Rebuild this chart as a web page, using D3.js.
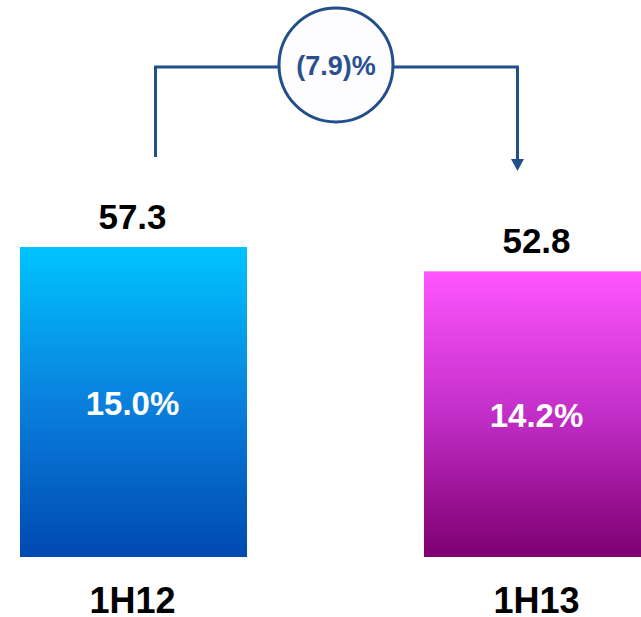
<!DOCTYPE html>
<html>
<head>
<meta charset="utf-8">
<script src="https://cdn.jsdelivr.net/npm/d3@7"></script>
<style>
  body { margin: 0; background: #fff; }
  svg { display: block; font-family: "Liberation Sans", Arial, sans-serif; }
</style>
</head>
<body>
<div id="chart"></div>
<script>
// data
var categories = ["1H12", "1H13"];
var values = [57.3, 52.8];
var margins = ["15.0%", "14.2%"];
var changeLabel = "(7.9)%";

var full_width = 641, full_height = 617;
var baseY = 557;

var svg = d3.select("#chart")
            .append("svg")
            .attr("width", full_width)
            .attr("height", full_height);

var x = d3.scaleBand()
          .domain(categories)
          .range([20, 651])
          .paddingInner(0.438)
          .paddingOuter(0);

var y = d3.scaleLinear()
          .domain([0, 57.3])
          .range([baseY, 247]);

// gradients
var defs = svg.append("defs");
var grads = [["g0", "#00c4ff", "#0a80dc", "#0049b2"], ["g1", "#ff55ff", "#c22ec8", "#7e0070"]];
grads.forEach(function(g) {
  var lg = defs.append("linearGradient").attr("id", g[0])
               .attr("x1", 0).attr("y1", 0).attr("x2", 0).attr("y2", 1);
  lg.append("stop").attr("offset", "0%").attr("stop-color", g[1]);
  lg.append("stop").attr("offset", "50%").attr("stop-color", g[2]);
  lg.append("stop").attr("offset", "100%").attr("stop-color", g[3]);
});

var data = categories.map(function(c, i) {
  return {cat: c, value: values[i], margin: margins[i], grad: grads[i][0]};
});

// bars
svg.selectAll("rect.bar")
   .data(data)
   .enter()
   .append("rect")
   .attr("class", "bar")
   .attr("x", function(d) { return x(d.cat); })
   .attr("y", function(d) { return y(d.value); })
   .attr("width", x.bandwidth())
   .attr("height", function(d) { return baseY - y(d.value); })
   .attr("fill", function(d) { return "url(#" + d.grad + ")"; });

// value labels
svg.selectAll("text.val")
   .data(data)
   .enter()
   .append("text")
   .attr("class", "val")
   .attr("x", function(d) { return x(d.cat) + x.bandwidth() / 2 - 1; })
   .attr("y", function(d) { return y(d.value) - 18; })
   .attr("text-anchor", "middle")
   .attr("font-size", 35)
   .attr("font-weight", "bold")
   .attr("fill", "#000")
   .text(function(d) { return d.value.toFixed(1); });

// margin labels inside bars
svg.selectAll("text.mrg")
   .data(data)
   .enter()
   .append("text")
   .attr("class", "mrg")
   .attr("x", function(d) { return x(d.cat) + x.bandwidth() / 2 - 1; })
   .attr("y", function(d) { return (y(d.value) + baseY) / 2 + 13; })
   .attr("text-anchor", "middle")
   .attr("font-size", 33)
   .attr("font-weight", "bold")
   .attr("fill", "#fff")
   .text(function(d) { return d.margin; });

// category labels
svg.selectAll("text.cat")
   .data(data)
   .enter()
   .append("text")
   .attr("class", "cat")
   .attr("x", function(d) { return x(d.cat) + x.bandwidth() / 2 - 1; })
   .attr("y", 613)
   .attr("text-anchor", "middle")
   .attr("font-size", 36)
   .attr("font-weight", "bold")
   .attr("fill", "#000")
   .text(function(d) { return d.cat; });

// change connector
var lineColor = "#214f8c";
var xl = x(categories[0]) + x.bandwidth() / 2 + 22;
var xr = x(categories[1]) + x.bandwidth() / 2 - 20;
var topY = 67;

svg.append("path")
   .attr("d", "M" + xl + ",157 V" + topY + " H" + xr + " V160")
   .attr("fill", "none")
   .attr("stroke", lineColor)
   .attr("stroke-width", 3);

svg.append("path")
   .attr("d", "M" + (xr - 6.5) + ",159 L" + (xr + 6.5) + ",159 L" + xr + ",171 Z")
   .attr("fill", lineColor);

var cx = (xl + xr) / 2 - 0.5;
svg.append("circle")
   .attr("cx", cx)
   .attr("cy", 65)
   .attr("r", 57)
   .attr("fill", "#fdfcff")
   .attr("stroke", lineColor)
   .attr("stroke-width", 3);

svg.append("text")
   .attr("x", cx)
   .attr("y", 75)
   .attr("text-anchor", "middle")
   .attr("font-size", 27)
   .attr("font-weight", "bold")
   .attr("fill", "#2b5090")
   .text(changeLabel);
</script>
</body>
</html>
